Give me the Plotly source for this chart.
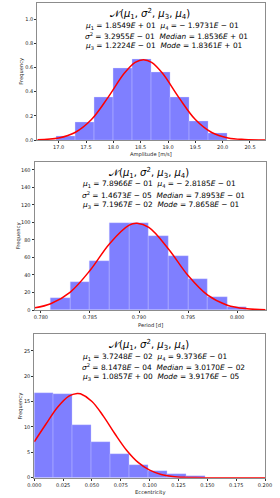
import plotly.graph_objects as go

# ---------------- data ----------------
# Panel 1: Amplitude [m/s]
amp_bin_left = [16.963, 17.310, 17.657, 18.004, 18.351, 18.698, 19.045, 19.392, 19.739]
amp_bin_width = 0.347
amp_freq = [0.033, 0.143, 0.350, 0.592, 0.664, 0.562, 0.355, 0.157, 0.052]
amp_curve_x = [16.61, 17.0, 17.3, 17.6, 17.9, 18.2, 18.4, 18.55, 18.7, 18.9, 19.2, 19.5, 19.8, 20.1, 20.4, 20.78]
amp_curve_y = [0.002, 0.017, 0.062, 0.169, 0.350, 0.551, 0.642, 0.664, 0.642, 0.551, 0.350, 0.169, 0.062, 0.017, 0.004, 0.0003]

# Panel 2: Period [d]
per_bin_left = [0.781, 0.783, 0.785, 0.787, 0.789, 0.791, 0.793, 0.795, 0.797, 0.799]
per_bin_width = 0.002
per_freq = [13.3, 32.4, 55.6, 99.4, 99.2, 84.6, 61.3, 35.4, 14.5, 3.4]
per_curve_x = [0.7794, 0.781, 0.783, 0.785, 0.787, 0.789, 0.7898, 0.791, 0.793, 0.795, 0.797, 0.799, 0.801, 0.8029]
per_curve_y = [2.5, 7.1, 20.5, 45.1, 75.8, 96.9, 99.0, 94.3, 69.8, 39.4, 16.9, 5.5, 1.4, 0.3]

# Panel 3: Eccentricity
ecc_bin_left = [0.0, 0.01647, 0.03294, 0.04941, 0.06588, 0.08235, 0.09882, 0.11529, 0.13176]
ecc_bin_width = 0.01647
ecc_freq = [16.6, 16.4, 10.4, 7.0, 4.7, 2.6, 1.3, 0.66, 0.26]
ecc_curve_x = [0.0, 0.01, 0.02, 0.03, 0.0372, 0.04, 0.05, 0.06, 0.07, 0.08, 0.09, 0.10, 0.11, 0.12, 0.13, 0.14, 0.15, 0.16, 0.18, 0.20]
ecc_curve_y = [7.08, 10.52, 13.83, 16.07, 16.6, 16.52, 15.02, 12.08, 8.60, 5.41, 3.01, 1.48, 0.64, 0.25, 0.085, 0.025, 0.006, 0.002, 0.0, 0.0]

# Stats text: (mu1, mu4, sigma2, median, mu3, mode)
amp_stats = ["1.8549<i>E</i> + 01", "− 1.9731<i>E</i> − 01", "3.2955<i>E</i> − 01", "1.8536<i>E</i> + 01", "1.2224<i>E</i> − 01", "1.8361<i>E</i> + 01"]
per_stats = ["7.8966<i>E</i> − 01", "− 2.8185<i>E</i> − 01", "1.4673<i>E</i> − 05", "7.8953<i>E</i> − 01", "7.1967<i>E</i> − 02", "7.8658<i>E</i> − 01"]
ecc_stats = ["3.7248<i>E</i> − 02", "9.3736<i>E</i> − 01", "8.1478<i>E</i> − 04", "3.0170<i>E</i> − 02", "1.0857<i>E</i> + 00", "3.9176<i>E</i> − 05"]

x_titles = ["Amplitude [m/s]", "Period [d]", "Eccentricity"]

# ---------------- layout helpers ----------------
W, H = 280, 498
FONT = "DejaVu Sans"

def px_x(p):
    return p / W

def px_y(p):
    return 1 - p / H

panels = [
    dict(bl=amp_bin_left, bw=amp_bin_width, f=amp_freq, cx=amp_curve_x, cy=amp_curve_y, st=amp_stats,
         xpx=(37.3, 265.3), ypx=(3.3, 140.0), xr=[16.609, 20.78], yr=[0, 1.13],
         xt=[17.0, 17.5, 18.0, 18.5, 19.0, 19.5, 20.0, 20.5], xfmt=".1f",
         yt=[0.0, 0.2, 0.4, 0.6, 0.8, 1.0], yfmt=".1f", ytx=22.0),
    dict(bl=per_bin_left, bw=per_bin_width, f=per_freq, cx=per_curve_x, cy=per_curve_y, st=per_stats,
         xpx=(34.5, 265.7), ypx=(162.0, 310.0), xr=[0.77935, 0.80291], yr=[0, 169.1],
         xt=[0.780, 0.785, 0.790, 0.795, 0.800], xfmt=".3f",
         yt=[0, 20, 40, 60, 80, 100, 120, 140, 160], yfmt="d", ytx=18.3),
    dict(bl=ecc_bin_left, bw=ecc_bin_width, f=ecc_freq, cx=ecc_curve_x, cy=ecc_curve_y, st=ecc_stats,
         xpx=(34.3, 265.0), ypx=(334.0, 477.7), xr=[0.0, 0.2], yr=[0, 28.3],
         xt=[0.0, 0.025, 0.05, 0.075, 0.1, 0.125, 0.15, 0.175, 0.2], xfmt=".3f",
         yt=[0, 5, 10, 15, 20, 25], yfmt="d", ytx=20.7),
]

fig = go.Figure()
annotations = []
layout_axes = {}

for i, p in enumerate(panels):
    n = i + 1
    xa = "x" if n == 1 else f"x{n}"
    ya = "y" if n == 1 else f"y{n}"
    centers = [l + p["bw"] / 2 for l in p["bl"]]
    fig.add_trace(go.Bar(x=centers, y=p["f"], width=[p["bw"]] * len(centers),
                         marker=dict(color="rgba(0,0,255,0.5)",
                                     line=dict(color="rgba(220,220,255,0.6)", width=0.5)),
                         xaxis=xa, yaxis=ya, showlegend=False, hoverinfo="skip"))
    fig.add_trace(go.Scatter(x=p["cx"], y=p["cy"], mode="lines", line=dict(color="red", width=1.5, shape="spline"),
                             xaxis=xa, yaxis=ya, showlegend=False, hoverinfo="skip"))
    axcommon = dict(showline=True, linecolor="#8c8c8c", linewidth=1, mirror=True, showgrid=False, zeroline=False,
                    ticks="outside", ticklen=2, tickwidth=0.8, tickcolor="#333",
                    tickfont=dict(family=FONT, size=5, color="#222"), automargin=False)
    layout_axes["xaxis" if n == 1 else f"xaxis{n}"] = dict(
        axcommon, domain=[px_x(p["xpx"][0]), px_x(p["xpx"][1])], range=p["xr"],
        tickvals=p["xt"], ticktext=[format(v, p["xfmt"]) for v in p["xt"]], anchor=ya)
    layout_axes["yaxis" if n == 1 else f"yaxis{n}"] = dict(
        axcommon, domain=[px_y(p["ypx"][1]), px_y(p["ypx"][0])], range=p["yr"],
        tickvals=p["yt"], ticktext=[format(v, p["yfmt"]) for v in p["yt"]], anchor=xa)

    x0, x1 = p["xpx"]
    y0, y1 = p["ypx"]
    cx = (x0 + x1) / 2
    # x title
    annotations.append(dict(text=x_titles[i], x=px_x(cx), y=px_y(y1 + 14.5), xref="paper", yref="paper",
                            showarrow=False, xanchor="center", yanchor="middle",
                            font=dict(family=FONT, size=5.2, color="#222")))
    # y title
    annotations.append(dict(text="Frequency", x=px_x(p["ytx"]), y=px_y((y0 + y1) / 2), xref="paper", yref="paper",
                            showarrow=False, xanchor="center", yanchor="middle", textangle=-90,
                            font=dict(family=FONT, size=5.2, color="#222")))
    # title
    annotations.append(dict(text="𝒩(<i>μ</i><sub>1</sub>, <i>σ</i><sup>2</sup>, <i>μ</i><sub>3</sub>, <i>μ</i><sub>4</sub>)",
                            x=px_x(cx - 1), y=px_y(y0 + 11.0), xref="paper", yref="paper", showarrow=False,
                            xanchor="center", yanchor="middle", font=dict(family=FONT, size=10, color="black")))
    st = p["st"]
    lines = [
        f"<i>μ</i><sub>1</sub> = {st[0]}  <i>μ</i><sub>4</sub> = {st[1]}",
        f"<i>σ</i><sup>2</sup> = {st[2]}  <i>Median</i> = {st[3]}",
        f"<i>μ</i><sub>3</sub> = {st[4]}  <i>Mode</i> = {st[5]}",
    ]
    lx = x0 + 45.5
    for k, t in enumerate(lines):
        annotations.append(dict(text=t, x=px_x(lx), y=px_y(y0 + 22.5 + 10.3 * k), xref="paper", yref="paper",
                                showarrow=False, xanchor="left", yanchor="middle",
                                font=dict(family=FONT, size=7.4, color="black")))

fig.update_layout(width=W, height=H, margin=dict(l=0, r=0, t=0, b=0), paper_bgcolor="white", plot_bgcolor="white",
                  barmode="overlay", bargap=0, annotations=annotations, **layout_axes)

fig.write_html("out.html", config={"displayModeBar": False},
               post_script="document.body.style.margin='0';document.body.style.padding='0';")
